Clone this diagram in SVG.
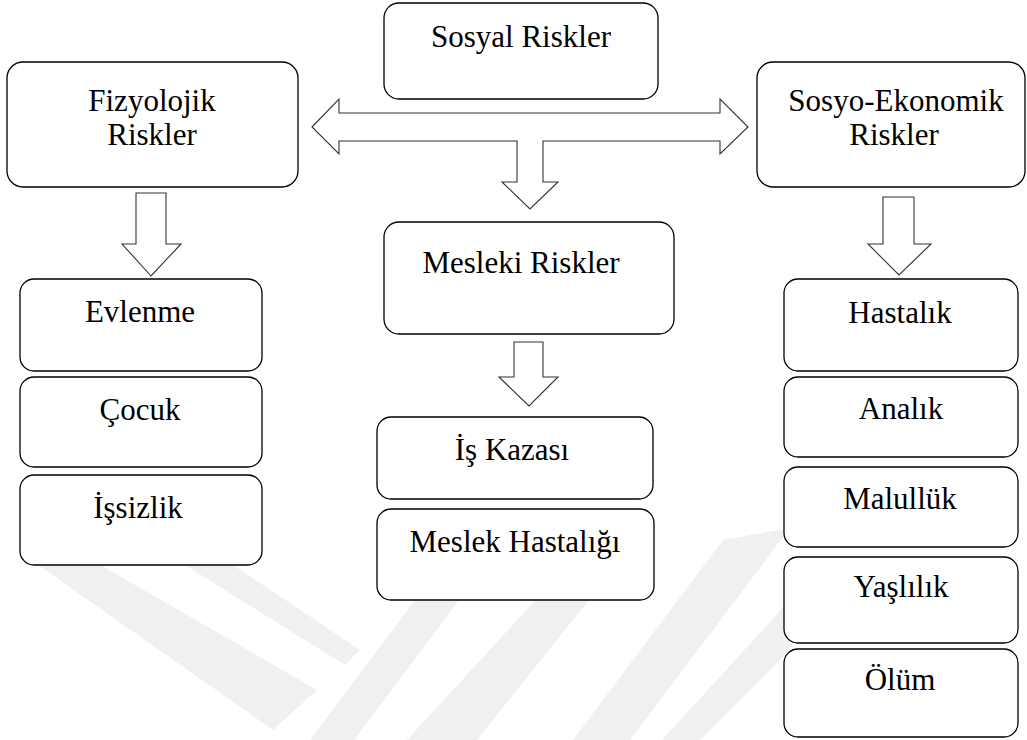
<svg xmlns="http://www.w3.org/2000/svg" width="1027" height="740" viewBox="0 0 1027 740">
<style>
.box{fill:#ffffff;stroke:#000000;stroke-width:1.3}
.arr{fill:#ffffff;stroke:#333333;stroke-width:1.1;stroke-linejoin:miter}
.t{font-family:"Liberation Serif","Times New Roman",serif;font-size:31px;fill:#000000;text-anchor:middle}
.wm{fill:#f0f0f0}
</style>
<rect x="0" y="0" width="1027" height="740" fill="#ffffff"/>
<g id="watermark">
<polygon class="wm" points="24,555 83,555 317,690 273,730"/>
<polygon class="wm" points="169,555 218,555 360,650 345,665"/>
<polygon class="wm" points="310,740 354,740 463,595 419,595"/>
<polygon class="wm" points="407,740 477,740 593,595 540,595"/>
<polygon class="wm" points="573,740 630,740 790,528 723,540"/>
<polygon class="wm" points="662,740 790,600 790,650 700,740"/>
</g>
<g id="connectors">
<polygon class="arr" points="312,127 339,99 339,113 720,113 720,99 748,127 720,154 720,141 543,141 543,182 558,182 530,209 502,182 517,182 517,141 339,141 339,154"/>
<polygon class="arr" points="136,193 166,193 166,244 181,244 151,276 122,244 136,244"/>
<polygon class="arr" points="883,197 914,197 914,244 931,244 899,275 868,244 883,244"/>
<polygon class="arr" points="514,342 543,342 543,377 558,377 529,406 499,377 514,377"/>
</g>
<g id="sosyal">
<rect class="box" x="384" y="3" width="274" height="96" rx="15"/>
<text class="t" x="521" y="47">Sosyal Riskler</text>
</g>
<g id="fizyolojik">
<rect class="box" x="7" y="62" width="291" height="125" rx="16"/>
<text class="t" x="152" y="111">Fizyolojik</text>
<text class="t" x="152" y="145">Riskler</text>
</g>
<g id="sosyoekonomik">
<rect class="box" x="757" y="62" width="268" height="125" rx="16"/>
<text class="t" x="896" y="111">Sosyo-Ekonomik</text>
<text class="t" x="894" y="145">Riskler</text>
</g>
<g id="mesleki">
<rect class="box" x="384" y="222" width="290" height="112" rx="15"/>
<text class="t" x="521" y="273">Mesleki Riskler</text>
</g>
<g id="evlenme">
<rect class="box" x="20" y="279" width="242" height="92" rx="14"/>
<text class="t" x="140" y="322">Evlenme</text>
</g>
<g id="cocuk">
<rect class="box" x="20" y="377" width="242" height="90" rx="14"/>
<text class="t" x="140" y="420">Çocuk</text>
</g>
<g id="issizlik">
<rect class="box" x="20" y="475" width="242" height="90" rx="14"/>
<text class="t" x="138" y="518">İşsizlik</text>
</g>
<g id="iskazasi">
<rect class="box" x="377" y="417" width="276" height="82" rx="14"/>
<text class="t" x="512" y="460">İş Kazası</text>
</g>
<g id="meslekhastaligi">
<rect class="box" x="377" y="509" width="277" height="91" rx="14"/>
<text class="t" x="515" y="552">Meslek Hastalığı</text>
</g>
<g id="hastalik">
<rect class="box" x="784" y="279" width="234" height="92" rx="14"/>
<text class="t" x="900" y="323">Hastalık</text>
</g>
<g id="analik">
<rect class="box" x="784" y="377" width="234" height="80" rx="14"/>
<text class="t" x="901" y="419">Analık</text>
</g>
<g id="malulluk">
<rect class="box" x="784" y="467" width="234" height="80" rx="14"/>
<text class="t" x="900" y="509">Malullük</text>
</g>
<g id="yaslilik">
<rect class="box" x="784" y="557" width="234" height="86" rx="14"/>
<text class="t" x="901" y="597">Yaşlılık</text>
</g>
<g id="olum">
<rect class="box" x="784" y="649" width="234" height="88" rx="14"/>
<text class="t" x="900" y="690">Ölüm</text>
</g>
</svg>
